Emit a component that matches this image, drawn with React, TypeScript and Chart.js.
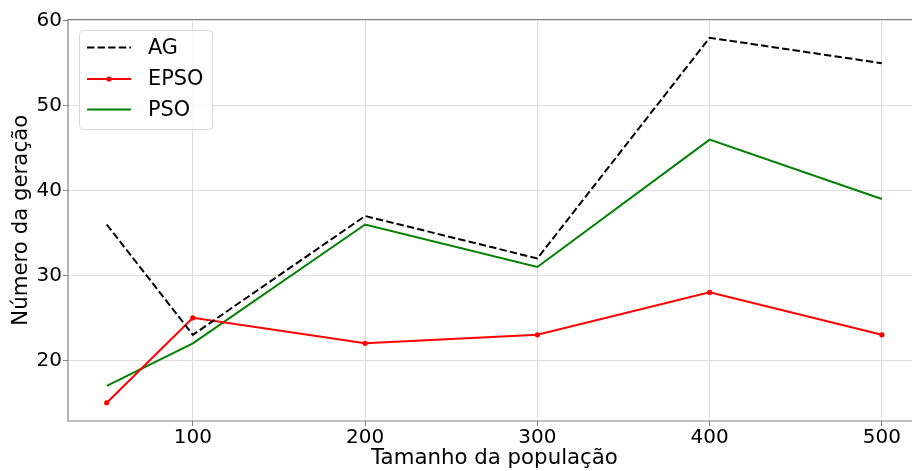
import React, { useEffect, useRef } from "react";
import { Chart, registerables } from "chart.js";

Chart.register(...registerables);

const populationSizes = [50, 100, 200, 300, 400, 500];
const agValues = [36, 23, 37, 32, 58, 55];
const epsoValues = [15, 25, 22, 23, 28, 23];
const psoValues = [17, 22, 36, 31, 46, 39];
const xTicks = [100, 200, 300, 400, 500];
const yTicks = [20, 30, 40, 50, 60];
const seriesLabels = ["AG", "EPSO", "PSO"];
const seriesColors = ["#000000", "#ff0000", "#008000"];
const xTitle = "Tamanho da população";
const yTitle = "Número da geração";

const FONT = "'DejaVu Sans', sans-serif";

const framePlugin = {
  id: "frameAndLegend",
  afterDraw(chart: any) {
    const { ctx, chartArea } = chart;
    const { left, top, right, bottom } = chartArea;
    ctx.save();
    // spines
    ctx.strokeStyle = "#808080";
    ctx.lineWidth = 1.2;
    ctx.beginPath();
    ctx.moveTo(right + 2, top);
    ctx.lineTo(left, top);
    ctx.lineTo(left, bottom);
    ctx.lineTo(right + 2, bottom);
    ctx.stroke();

    // x axis title (centred on the full matplotlib axes width)
    ctx.fillStyle = "#000";
    ctx.font = `21.3px ${FONT}`;
    ctx.textAlign = "center";
    ctx.textBaseline = "middle";
    ctx.fillText(xTitle, 494.5, chart.height - 12.8);

    // legend
    const bx = 79.5, by = 30.5, bw = 133, bh = 99, r = 4;
    ctx.beginPath();
    ctx.moveTo(bx + r, by);
    ctx.lineTo(bx + bw - r, by);
    ctx.quadraticCurveTo(bx + bw, by, bx + bw, by + r);
    ctx.lineTo(bx + bw, by + bh - r);
    ctx.quadraticCurveTo(bx + bw, by + bh, bx + bw - r, by + bh);
    ctx.lineTo(bx + r, by + bh);
    ctx.quadraticCurveTo(bx, by + bh, bx, by + bh - r);
    ctx.lineTo(bx, by + r);
    ctx.quadraticCurveTo(bx, by, bx + r, by);
    ctx.closePath();
    ctx.fillStyle = "rgba(255,255,255,0.8)";
    ctx.fill();
    ctx.strokeStyle = "#d6d6d6";
    ctx.lineWidth = 1;
    ctx.stroke();

    const rows = [47.5, 79, 109.5];
    const dashes = [[7.4, 3.2], [], []];
    seriesLabels.forEach((label, i) => {
      const y = rows[i];
      ctx.strokeStyle = seriesColors[i];
      ctx.lineWidth = 2;
      ctx.setLineDash(dashes[i]);
      ctx.beginPath();
      ctx.moveTo(87, y);
      ctx.lineTo(131, y);
      ctx.stroke();
      ctx.setLineDash([]);
      if (i === 1) {
        ctx.fillStyle = seriesColors[i];
        ctx.beginPath();
        ctx.arc(109, y, 2.6, 0, Math.PI * 2);
        ctx.fill();
      }
      ctx.fillStyle = "#000";
      ctx.font = `20.8px ${FONT}`;
      ctx.textBaseline = "middle";
      ctx.textAlign = "left";
      ctx.fillText(label, 148, y + 1);
    });
    ctx.restore();
  },
};

export default function App() {
  const canvasRef = useRef<HTMLCanvasElement | null>(null);

  useEffect(() => {
    const canvas = canvasRef.current;
    if (!canvas) return;
    const toPoints = (vals: number[]) =>
      populationSizes.map((x, i) => ({ x, y: vals[i] }));

    const chart = new Chart(canvas, {
      type: "line",
      data: {
        datasets: [
          {
            label: seriesLabels[0],
            data: toPoints(agValues),
            borderColor: seriesColors[0],
            backgroundColor: seriesColors[0],
            borderWidth: 2,
            borderDash: [7.4, 3.2],
            pointRadius: 0,
            tension: 0,
          },
          {
            label: seriesLabels[1],
            data: toPoints(epsoValues),
            borderColor: seriesColors[1],
            backgroundColor: seriesColors[1],
            borderWidth: 2,
            pointRadius: 2.6,
            pointBorderWidth: 0,
            tension: 0,
          },
          {
            label: seriesLabels[2],
            data: toPoints(psoValues),
            borderColor: seriesColors[2],
            backgroundColor: seriesColors[2],
            borderWidth: 2,
            pointRadius: 0,
            tension: 0,
          },
        ],
      },
      options: {
        responsive: false,
        animation: false,
        events: [],
        layout: { autoPadding: false, padding: { top: 19.5, left: 0, right: 0, bottom: 0 } },
        plugins: {
          legend: { display: false },
          tooltip: { enabled: false },
        },
        scales: {
          x: {
            type: "linear",
            min: 27.5,
            max: 517.5,
            afterBuildTicks: (scale: any) => {
              scale.ticks = xTicks.map((v) => ({ value: v }));
            },
            afterFit: (scale: any) => {
              scale.height = 50;
              scale.paddingLeft = 0;
              scale.paddingRight = 0;
            },
            grid: {
              color: "#dddddd",
              lineWidth: 1,
              drawTicks: true,
              tickLength: 5,
              tickColor: "#808080",
            },
            border: { display: false },
            ticks: {
              autoSkip: false,
              maxRotation: 0,
              padding: 0,
              color: "#000",
              font: { family: FONT, size: 20 },
            },
            title: { display: false },
          },
          y: {
            type: "linear",
            min: 12.85,
            max: 60.15,
            afterBuildTicks: (scale: any) => {
              scale.ticks = yTicks.map((v) => ({ value: v }));
            },
            afterFit: (scale: any) => {
              scale.width = 68;
              scale.paddingTop = 0;
              scale.paddingBottom = 0;
            },
            grid: {
              color: "#dddddd",
              lineWidth: 1,
              drawTicks: true,
              tickLength: 5,
              tickColor: "#808080",
            },
            border: { display: false },
            ticks: {
              padding: 1,
              color: "#000",
              font: { family: FONT, size: 20 },
            },
            title: {
              display: true,
              text: yTitle,
              color: "#000",
              font: { family: FONT, size: 21.3 },
              padding: { top: 9, bottom: 0 },
            },
          },
        },
      },
      plugins: [framePlugin],
    });
    return () => chart.destroy();
  }, []);

  return (
    <div style={{ position: "absolute", left: 0, top: 0, width: 912, height: 471 }}>
      <canvas ref={canvasRef} width={912} height={471} style={{ display: "block" }} />
    </div>
  );
}
